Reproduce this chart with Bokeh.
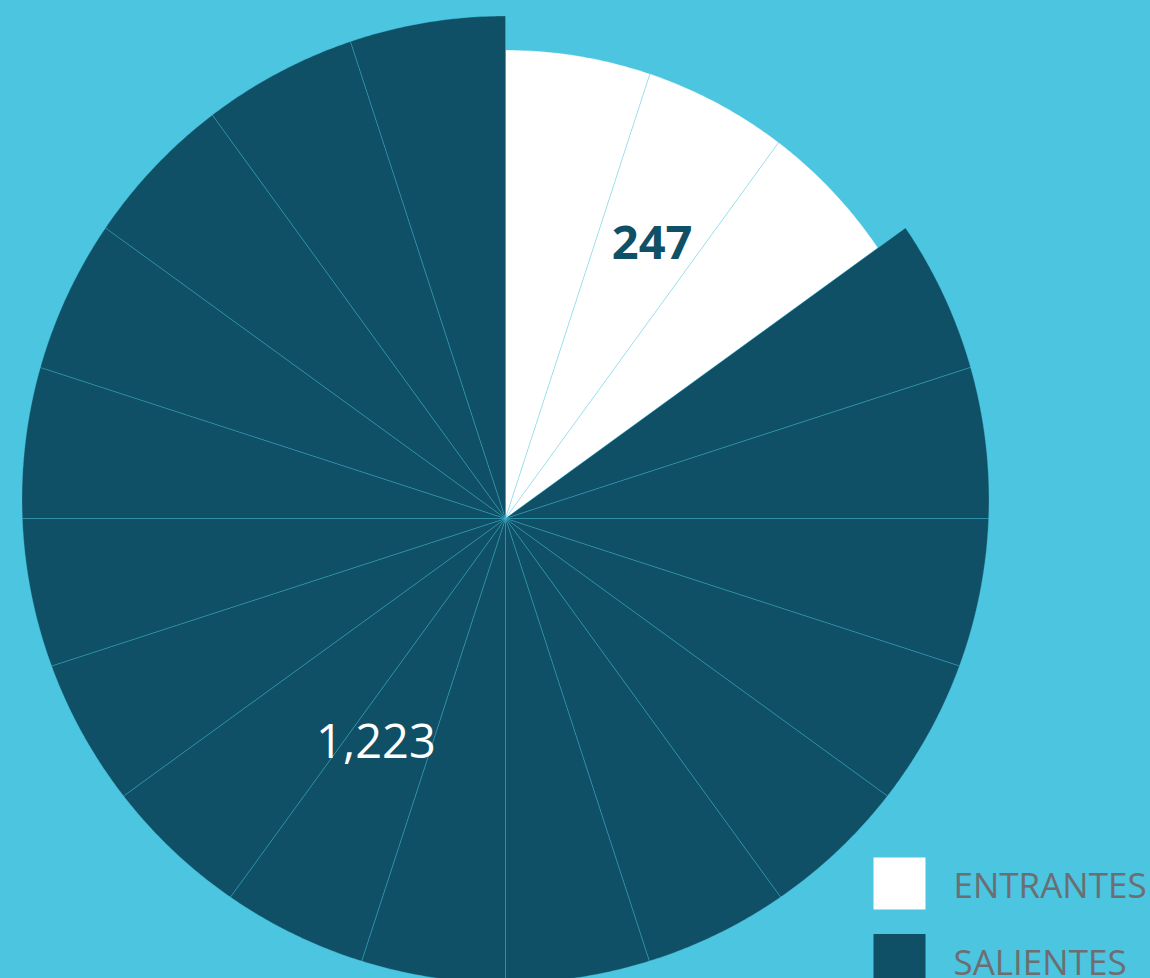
import numpy as np
from bokeh.plotting import figure
from bokeh.models import Range1d, ColumnDataSource
from bokeh.core.properties import value
from bokeh.embed import file_html
from bokeh.resources import INLINE

# ---- data ----
categories = ["ENTRANTES", "SALIENTES"]
values = [247, 1223]
labels = ["247", "1,223"]

# ---- style ----
slice_colors = ["#FFFFFF", "#0F5066"]
label_colors = ["#0F5066", "#FFFFFF"]
label_weights = ["bold", "normal"]
label_rfac = [0.696, 0.532]
label_nudge_deg = [2.3, 0.0]
BG = "#4BC5E0"
LEGEND_TEXT = "#6D6E71"
FONT = "Open Sans"

W, H = 1150, 978
AX, AY = 505.0, 460.0      # apex of the slices
H_OFF = 19.0               # outer circle centre sits above the apex
radii = [449.5, 483.5]
N_SEG = 20

total = float(sum(values))
fracs = [v / total for v in values]
n_first = int(round(fracs[0] * N_SEG))
seg_counts = [n_first, N_SEG - n_first]


def ray_len(theta, R):
    return H_OFF * np.sin(theta) + np.sqrt(R ** 2 - (H_OFF * np.cos(theta)) ** 2)


xs, ys, fills = [], [], []
start = np.pi / 2
step = 2 * np.pi / N_SEG
for ci, cnt in enumerate(seg_counts):
    for k in range(cnt):
        a0, a1 = start, start - step
        th = np.linspace(a0, a1, 40)
        r = ray_len(th, radii[ci])
        xs.append(np.concatenate([[AX], AX + r * np.cos(th)]).tolist())
        ys.append(np.concatenate([[AY], AY + r * np.sin(th)]).tolist())
        fills.append(slice_colors[ci])
        start = a1

p = figure(width=W, height=H, x_range=Range1d(0, W), y_range=Range1d(0, H),
           output_backend="svg", toolbar_location=None, min_border=0)
p.axis.visible = False
p.grid.visible = False
p.outline_line_color = None
p.background_fill_color = BG
p.border_fill_color = BG

p.patches(xs="xs", ys="ys", fill_color="fill", line_color=BG, line_width=0.7,
          line_alpha=0.45, source=ColumnDataSource(dict(xs=xs, ys=ys, fill=fills)))

# value labels
cum = 0.0
for i, f in enumerate(fracs):
    mid = np.pi / 2 - 2 * np.pi * (cum + f / 2) + np.radians(label_nudge_deg[i])
    cum += f
    rr = radii[i] * label_rfac[i]
    p.text(x=[AX + rr * np.cos(mid)], y=[AY + rr * np.sin(mid)], text=[labels[i]],
           text_color=label_colors[i], text_font=value(FONT), text_font_size="47px",
           text_font_style=label_weights[i], text_align="center", text_baseline="middle")

# legend
LX, LY0, LDY = 899.0, 95.0, 76.5
for i, c in enumerate(categories):
    yy = LY0 - i * LDY
    p.rect(x=[LX], y=[yy], width=52, height=52, fill_color=slice_colors[i], line_color=None)
    p.text(x=[LX + 54], y=[yy - 1], text=[c], text_color=LEGEND_TEXT,
           text_font=value(FONT), text_font_size="35px", text_align="left",
           text_baseline="alphabetic")

html = file_html(p, INLINE)
html = html.replace("</head>", "<style>html,body{background:%s;}</style></head>" % BG, 1)
open("out.html", "w").write(html)
